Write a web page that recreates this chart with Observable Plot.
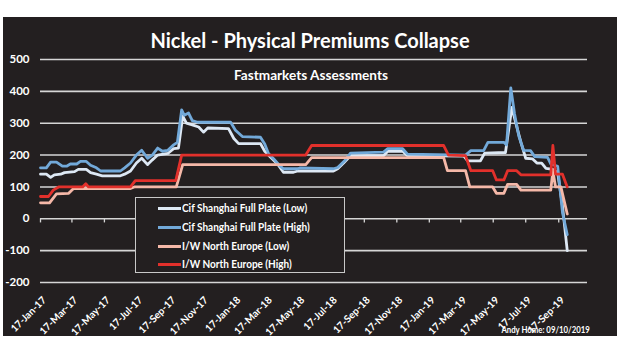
<!DOCTYPE html>
<html>
<head>
<meta charset="utf-8">
<script src="https://cdn.jsdelivr.net/npm/d3@7"></script>
<script src="https://cdn.jsdelivr.net/npm/@observablehq/plot@0.6"></script>
<style>
  html, body { margin: 0; padding: 0; background: #ffffff; }
  #wrap { position: relative; width: 620px; height: 355px; overflow: hidden; font-family: Lato, "Open Sans", sans-serif; font-weight: bold; color: #fff; }
  #panel { position: absolute; left: 3px; top: 17px; width: 614px; height: 319px; background: #231f20; }
  #chart { position: absolute; left: 0; top: 0; }
  .txt { position: absolute; white-space: nowrap; line-height: 1; }
  #title { left: 0; width: 620px; text-align: center; top: 30px; font-size: 20px; }
  #subtitle { left: 0; width: 622px; text-align: center; top: 69px; font-size: 13.6px; }
  #legend { position: absolute; left: 135px; top: 197px; width: 208px; height: 74px; border: 1.5px solid #c8c8c8; background: #231f20; }
  .row { position: absolute; left: 22px; height: 14px; display: flex; align-items: center; }
  .sw { width: 23px; height: 3px; margin-right: 1px; }
  .lab { font-size: 11.5px; line-height: 1; display: inline-block; transform: scaleX(0.87); transform-origin: left center; }
  #credit { right: 30px; top: 325px; font-size: 9.5px; transform: scaleX(0.82); transform-origin: right center; }
</style>
</head>
<body>
<div id="wrap">
  <div id="panel"></div>
  <div id="chart"></div>
  <div id="title" class="txt">Nickel - Physical Premiums Collapse</div>
  <div id="subtitle" class="txt">Fastmarkets Assessments</div>
  <div id="legend"></div>
  <div id="credit" class="txt">Andy Home: 09/10/2019</div>
</div>
<script>
// ---- Data (USD/tonne premiums) ----
const seriesNames = ["Cif Shanghai Full Plate (Low)", "Cif Shanghai Full Plate (High)", "I/W North Europe (Low)", "I/W North Europe (High)"];
const seriesColors = ["#dde8f4", "#72a9d9", "#f5b8a8", "#e2302b"];

const yTicks = [-200, -100, 0, 100, 200, 300, 400, 500];
const xTickLabels = ["2017-01-17","2017-03-17","2017-05-17","2017-07-17","2017-09-17","2017-11-17",
  "2018-01-17","2018-03-17","2018-05-17","2018-07-17","2018-09-17","2018-11-17",
  "2019-01-17","2019-03-17","2019-05-17","2019-07-17","2019-09-17"];
const xDomain = ["2017-01-17", "2019-11-10"];

const cifLowDates = ["2017-01-17","2017-01-28","2017-02-05","2017-02-12","2017-02-24","2017-03-03","2017-03-22","2017-03-29","2017-04-13","2017-04-21","2017-05-02","2017-05-13","2017-06-16","2017-06-24","2017-07-05","2017-07-16","2017-07-26","2017-08-06","2017-08-15","2017-08-25","2017-09-13","2017-09-24","2017-10-03","2017-10-11","2017-10-18","2017-10-29","2017-11-10","2017-11-19","2017-11-27","2018-01-05","2018-01-15","2018-01-24","2018-03-06","2018-03-14","2018-03-25","2018-04-07","2018-04-18","2018-05-07","2018-05-15","2018-07-21","2018-07-29","2018-08-09","2018-08-22","2018-10-23","2018-10-31","2018-11-28","2018-12-07","2019-03-23","2019-03-30","2019-04-23","2019-05-01","2019-06-09","2019-06-21","2019-06-30","2019-07-08","2019-07-17","2019-07-30","2019-08-07","2019-08-16","2019-08-24","2019-09-06","2019-09-15","2019-09-24","2019-10-03"];
const cifLowValues = [140,140,130,138,140,145,148,155,155,145,140,135,135,140,150,175,190,170,185,200,205,220,222,322,300,295,288,272,285,283,252,236,236,212,193,172,146,146,150,150,157,175,198,198,212,212,198,197,182,182,206,208,350,290,240,190,188,175,175,158,155,145,40,-100];

const cifHighDates = ["2017-01-17","2017-01-28","2017-02-05","2017-02-16","2017-02-27","2017-03-07","2017-03-14","2017-03-26","2017-04-02","2017-04-13","2017-04-21","2017-05-02","2017-05-10","2017-06-16","2017-06-24","2017-07-05","2017-07-16","2017-07-26","2017-08-06","2017-08-15","2017-08-25","2017-09-03","2017-09-13","2017-09-24","2017-10-01","2017-10-09","2017-10-14","2017-10-22","2017-10-29","2017-11-08","2018-01-09","2018-01-18","2018-01-31","2018-03-06","2018-03-14","2018-03-21","2018-03-31","2018-04-11","2018-04-18","2018-05-15","2018-05-20","2018-07-21","2018-07-29","2018-08-11","2018-08-22","2018-10-23","2018-10-31","2018-11-28","2018-12-07","2019-03-26","2019-04-05","2019-04-29","2019-05-07","2019-06-06","2019-06-11","2019-06-19","2019-06-26","2019-07-04","2019-07-13","2019-07-26","2019-08-03","2019-08-27","2019-09-02","2019-09-15","2019-09-24","2019-10-03"];
const cifHighValues = [160,160,178,178,165,165,172,172,180,180,168,160,150,150,160,175,200,215,190,200,222,212,215,232,240,342,325,332,308,303,303,278,258,256,235,205,188,167,157,157,160,157,161,182,206,209,220,220,203,200,214,214,240,240,232,411,330,260,215,214,195,193,172,165,20,-50];

const iwLowDates = ["2017-01-17","2017-02-03","2017-02-16","2017-03-11","2017-03-20","2017-07-05","2017-07-12","2017-09-29","2017-10-11","2018-05-30","2018-06-10","2019-02-13","2019-02-20","2019-03-26","2019-04-03","2019-05-16","2019-05-23","2019-06-06","2019-06-13","2019-06-30","2019-07-08","2019-09-02","2019-09-06","2019-09-11","2019-09-21","2019-10-03"];
const iwLowValues = [50,50,78,80,95,95,100,100,170,170,192,192,151,151,100,100,80,80,108,108,90,90,150,100,100,15];

const iwHighDates = ["2017-01-17","2017-02-01","2017-02-10","2017-02-20","2017-04-06","2017-04-12","2017-04-17","2017-07-05","2017-07-14","2017-09-28","2017-10-09","2018-05-30","2018-06-10","2019-02-13","2019-02-22","2019-03-26","2019-04-05","2019-05-16","2019-05-23","2019-06-06","2019-06-13","2019-06-30","2019-07-08","2019-09-02","2019-09-06","2019-09-11","2019-09-24","2019-10-03"];
const iwHighValues = [70,70,90,100,100,110,100,100,120,120,200,200,230,230,200,198,151,151,122,122,151,151,138,138,230,140,140,100];

// ---- Build ----
const parse = d3.utcParse("%Y-%m-%d");
const rows = (dates, values) => dates.map((d, i) => ({date: parse(d), value: values[i]}));
const series = [
  rows(cifLowDates, cifLowValues),
  rows(cifHighDates, cifHighValues),
  rows(iwLowDates, iwLowValues),
  rows(iwHighDates, iwHighValues)
];
const xTicks = xTickLabels.map(parse);
const fmt = d3.utcFormat("%d-%b-%y");

const chart = Plot.plot({
  width: 620,
  height: 355,
  marginLeft: 40,
  marginRight: 33,
  marginTop: 59,
  marginBottom: 73,
  style: {background: "transparent", color: "#ffffff", fontFamily: "Lato, 'Open Sans', sans-serif", fontWeight: "bold", overflow: "visible"},
  x: {type: "utc", domain: xDomain.map(parse)},
  y: {domain: [-200, 500]},
  marks: [
    Plot.ruleY(yTicks, {stroke: "#d6d6d6", strokeWidth: 1.6}),
    Plot.ruleX(xTicks, {x: d => d, y1: 0, y2: -13, stroke: "#d6d6d6", strokeWidth: 1.3}),
    Plot.axisY({ticks: yTicks, tickSize: 0, tickPadding: 11, fontSize: 11.5, tickFormat: d => String(d), label: null}),
    Plot.axisX({ticks: xTicks, tickSize: 0, tickPadding: 16, dx: 4, tickRotate: -45, fontSize: 10, tickFormat: fmt, label: null}),
    ...series.map((s, i) => Plot.line(s, {x: "date", y: "value", stroke: seriesColors[i], strokeWidth: 2.8, strokeLinejoin: "round"}))
  ]
});
document.getElementById("chart").appendChild(chart);

// ---- Legend ----
const legend = document.getElementById("legend");
const rowTops = [3, 22, 41, 59];
seriesNames.forEach((name, i) => {
  const r = document.createElement("div");
  r.className = "row";
  r.style.top = rowTops[i] + "px";
  const sw = document.createElement("div");
  sw.className = "sw";
  sw.style.background = seriesColors[i];
  const lab = document.createElement("span");
  lab.className = "lab";
  lab.textContent = name;
  r.appendChild(sw);
  r.appendChild(lab);
  legend.appendChild(r);
});
</script>
</body>
</html>
